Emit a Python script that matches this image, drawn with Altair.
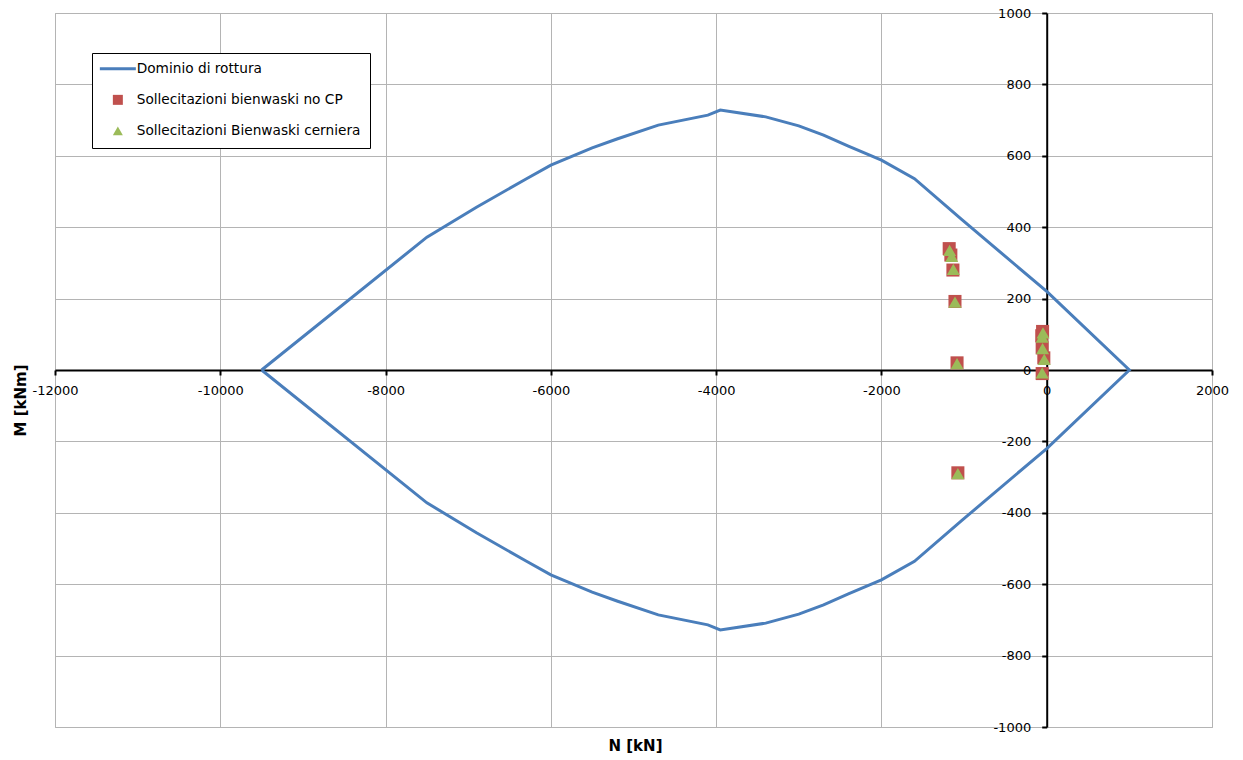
import altair as alt
import pandas as pd

# ---- data ----
N_dom_upper = [-9500, -7500, -6900, -6300, -6000, -5500, -5200, -4700, -4100, -3950,
               -3400, -3000, -2700, -2400, -2000, -1600, -1030, 0, 1000]
M_dom_upper = [0, 372, 456, 535, 574, 622, 647, 686, 714, 728,
               709, 684, 658, 627, 588, 536, 422, 220, 0]

N_noCP = [-1180, -1160, -1135, -1110, -1085, -1075, -50, -60, -55, -35, -55]
M_noCP = [340, 322, 280, 192, 20, -288, 108, 96, 62, 34, -10]

N_cern = [-1175, -1150, -1130, -1110, -1085, -1075, -45, -55, -50, -30, -55]
M_cern = [335, 318, 282, 190, 18, -290, 104, 92, 60, 30, -8]

series = ["Dominio di rottura", "Sollecitazioni bienwaski no CP",
          "Sollecitazioni Bienwaski cerniera"]
colors = ["#4A7EBB", "#C0504D", "#9BBB59"]
shapes = ["M-3.6,-0.3H3.6V0.3H-3.6Z", "square", "triangle-up"]

x_ticks = list(range(-12000, 2001, 2000))
y_ticks = list(range(-1000, 1001, 200))

# ---- tables ----
N_line = N_dom_upper + N_dom_upper[::-1][1:]
M_line = M_dom_upper + [-m for m in M_dom_upper[::-1][1:]]
dom = pd.DataFrame({"N": N_line, "M": M_line, "i": list(range(len(N_line)))})
pts1 = pd.DataFrame({"N": N_noCP, "M": M_noCP, "series": series[1]})
pts2 = pd.DataFrame({"N": N_cern, "M": M_cern, "series": series[2]})

W, H = 1157, 714
X0 = W * 12000 / 14000  # pixel of N = 0
FONT = "DejaVu Sans"

xscale = alt.Scale(domain=[-12000, 2000], nice=False, zero=False)
yscale = alt.Scale(domain=[-1000, 1000], nice=False, zero=False)

xaxis = alt.Axis(values=x_ticks, grid=True, gridColor="#B4B4B4", gridWidth=1,
                 domainColor="black", domainWidth=2, tickColor="black", tickWidth=2,
                 tickSize=5, labelFontSize=13, labelColor="black", labelFont=FONT,
                 labelFlush=False, labelOverlap=False, labelPadding=9,
                 labelExpr="datum.value + ''",
                 offset=-H / 2, title="N [kN]", titleFont=FONT, titleFontSize=15,
                 titleFontWeight="bold", titleColor="black", titleX=580,
                 titleY=H / 2 + 18, titleBaseline="middle")
yaxis = alt.Axis(values=y_ticks, grid=True, gridColor="#B4B4B4", gridWidth=1,
                 domainColor="black", domainWidth=2, tickColor="black", tickWidth=2,
                 tickSize=5, labelFontSize=13, labelColor="black", labelFont=FONT,
                 labelFlush=False, labelOverlap=False, labelPadding=11,
                 labelExpr="datum.value + ''",
                 offset=-X0, title="M [kNm]", titleFont=FONT, titleFontSize=15,
                 titleFontWeight="bold", titleColor="black", titleAngle=270,
                 titleX=-X0 - 35, titleY=387, titleBaseline="middle")

line = alt.Chart(dom).mark_line(color=colors[0], strokeWidth=3).encode(
    x=alt.X("N:Q", scale=xscale, axis=xaxis),
    y=alt.Y("M:Q", scale=yscale, axis=yaxis),
    order="i:Q",
)

legend = alt.Legend(title=None, orient="none", legendX=37, legendY=40,
                    strokeColor="black", fillColor="white", padding=9,
                    symbolOffset=10, labelOffset=12, rowPadding=15,
                    labelFontSize=13.7, labelFont=FONT, labelColor="black",
                    symbolSize=100, symbolOpacity=1, labelLimit=400)

color_enc = alt.Color("series:N", scale=alt.Scale(domain=series, range=colors), legend=legend)
shape_enc = alt.Shape("series:N", scale=alt.Scale(domain=series, range=shapes), legend=legend)

sq = alt.Chart(pts1).mark_point(filled=True, size=170, opacity=1).encode(
    x="N:Q", y="M:Q", color=color_enc, shape=shape_enc)
tri = alt.Chart(pts2).mark_point(filled=True, size=170, opacity=1).encode(
    x="N:Q", y="M:Q", color=color_enc, shape=shape_enc)

chart = alt.layer(line, sq, tri).properties(
    width=W, height=H,
    autosize=alt.AutoSizeParams(type="none"),
    padding={"left": 47, "top": 5, "right": 20, "bottom": 30},
    background="white",
).configure_view(stroke="#B4B4B4")

chart.save("out.html", embed_options={"renderer": "svg", "actions": False})
